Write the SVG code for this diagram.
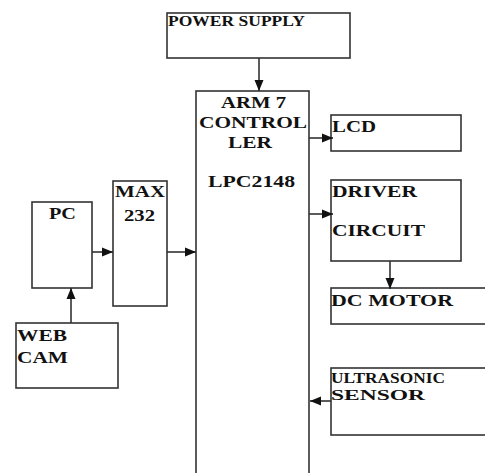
<svg xmlns="http://www.w3.org/2000/svg" width="485" height="473" viewBox="0 0 485 473">
<style>
.box{fill:#fff;stroke:#333;stroke-width:1.6}
.t{font-family:"Liberation Serif","Times New Roman",serif;font-weight:bold;font-size:17.5px;fill:#111}
.s{font-size:15px}
.c{stroke:#333;stroke-width:1.6;fill:none;marker-end:url(#ah)}
</style>
<defs>
<marker id="ah" markerUnits="userSpaceOnUse" markerWidth="12" markerHeight="12" viewBox="0 0 12 12" refX="11" refY="6" orient="auto">
<path d="M0,1.5 L11,6 L0,10.5 Z" fill="#111"/>
</marker>
</defs>
<rect width="485" height="473" fill="#fff"/>
<g id="power">
<rect class="box" x="167" y="13" width="183" height="45"/>
<text class="t s" x="168" y="26" textLength="137" lengthAdjust="spacingAndGlyphs">POWER SUPPLY</text>
</g>
<g id="arm">
<rect class="box" x="196" y="91" width="113" height="390"/>
<text class="t" x="221" y="108" textLength="65" lengthAdjust="spacingAndGlyphs">ARM 7</text>
<text class="t" x="199" y="128" textLength="108" lengthAdjust="spacingAndGlyphs">CONTROL</text>
<text class="t" x="228" y="148" textLength="44" lengthAdjust="spacingAndGlyphs">LER</text>
<text class="t" x="208" y="187" textLength="87" lengthAdjust="spacingAndGlyphs">LPC2148</text>
</g>
<g id="lcd">
<rect class="box" x="331" y="115" width="130" height="36"/>
<text class="t" x="332" y="132" textLength="44" lengthAdjust="spacingAndGlyphs">LCD</text>
</g>
<g id="driver">
<rect class="box" x="331" y="180" width="130" height="81"/>
<text class="t" x="332" y="197" textLength="85" lengthAdjust="spacingAndGlyphs">DRIVER</text>
<text class="t" x="332" y="236" textLength="93" lengthAdjust="spacingAndGlyphs">CIRCUIT</text>
</g>
<g id="dcmotor">
<rect class="box" x="331" y="288" width="160" height="36"/>
<text class="t" x="331" y="306" textLength="122" lengthAdjust="spacingAndGlyphs">DC MOTOR</text>
</g>
<g id="ultrasonic">
<rect class="box" x="331" y="368" width="160" height="67"/>
<text class="t s" x="331" y="383" textLength="114" lengthAdjust="spacingAndGlyphs">ULTRASONIC</text>
<text class="t s" x="331" y="400" textLength="94" lengthAdjust="spacingAndGlyphs">SENSOR</text>
</g>
<g id="pc">
<rect class="box" x="32" y="202" width="60" height="86"/>
<text class="t" x="49" y="219" textLength="27" lengthAdjust="spacingAndGlyphs">PC</text>
</g>
<g id="max232">
<rect class="box" x="113" y="181" width="54" height="125"/>
<text class="t" x="115" y="197" textLength="50" lengthAdjust="spacingAndGlyphs">MAX</text>
<text class="t" x="124" y="221" textLength="31" lengthAdjust="spacingAndGlyphs">232</text>
</g>
<g id="webcam">
<rect class="box" x="16" y="323" width="102" height="65"/>
<text class="t" x="17" y="341" textLength="50" lengthAdjust="spacingAndGlyphs">WEB</text>
<text class="t" x="17" y="363" textLength="51" lengthAdjust="spacingAndGlyphs">CAM</text>
</g>
<g id="connectors">
<path class="c" d="M259,58 V91"/>
<path class="c" d="M92,252 H113"/>
<path class="c" d="M167,252 H196"/>
<path class="c" d="M71,323 V288"/>
<path class="c" d="M309,138 H333"/>
<path class="c" d="M309,214 H333"/>
<path class="c" d="M390,261 V289"/>
<path class="c" d="M331,401 H310"/>
</g>
</svg>
